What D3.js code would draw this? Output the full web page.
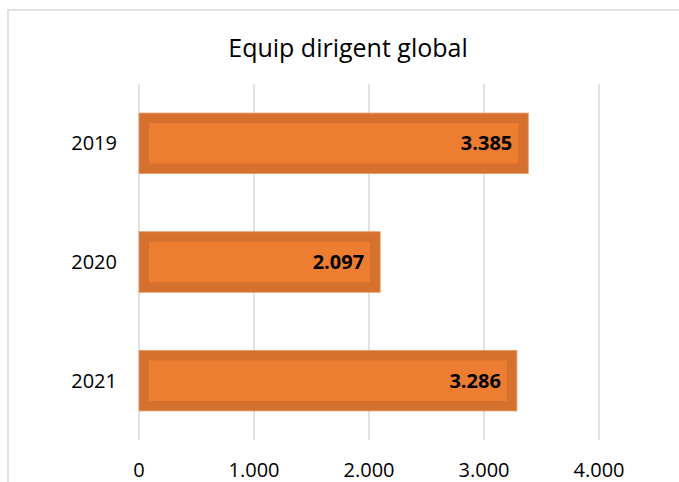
<!DOCTYPE html>
<html lang="ca">
<head>
<meta charset="utf-8">
<title>Equip dirigent global</title>
<script src="https://cdnjs.cloudflare.com/ajax/libs/d3/7.8.5/d3.min.js"></script>
<style>
  body { margin: 0; background: #fff; }
  text { font-family: "Open Sans", "Noto Sans", sans-serif; fill: #000; }
</style>
</head>
<body>
<script>
var years = ["2019", "2020", "2021"];
var values = [3385, 2097, 3286];
var ticks = [0, 1000, 2000, 3000, 4000];

var w = 679, h = 482;
var pLeft = 139, pRight = 599, pTop = 84, pBottom = 440;

var svg = d3.select("body").append("svg")
    .attr("width", w)
    .attr("height", h);

// chart area frame
svg.append("rect")
    .attr("x", 8).attr("y", 10)
    .attr("width", w + 10).attr("height", h + 10)
    .attr("fill", "none")
    .attr("stroke", "#d9d9d9")
    .attr("stroke-width", 1.5);

svg.append("text")
    .attr("x", 348).attr("y", 57)
    .attr("text-anchor", "middle")
    .attr("font-size", 25)
    .attr("font-weight", 500)
    .text("Equip dirigent global");

var x = d3.scaleLinear().domain([0, 4000]).range([pLeft, pRight]);
var y = d3.scaleBand().domain(years).range([pTop, pBottom])
    .paddingInner(0.49).paddingOuter(0.245);

var fmt = function(v) { return d3.format(",")(v).replace(/,/g, "."); };

// gridlines
svg.selectAll("line.grid")
    .data(ticks)
    .enter().append("line")
    .attr("class", "grid")
    .attr("x1", function(d) { return x(d); })
    .attr("x2", function(d) { return x(d); })
    .attr("y1", pTop)
    .attr("y2", pBottom)
    .attr("stroke", "#d9d9d9")
    .attr("stroke-width", 1.5);

var bw = 10;
var bars = svg.selectAll("g.bar")
    .data(values)
    .enter().append("g")
    .attr("class", "bar");

bars.append("rect")
    .attr("x", x(0))
    .attr("y", function(d, i) { return y(years[i]); })
    .attr("width", function(d) { return x(d) - x(0); })
    .attr("height", y.bandwidth())
    .attr("fill", "#d5702e")
    .attr("stroke", "#e99a62")
    .attr("stroke-width", 0.8);

bars.append("rect")
    .attr("x", x(0) + bw)
    .attr("y", function(d, i) { return y(years[i]) + bw; })
    .attr("width", function(d) { return x(d) - x(0) - 2 * bw; })
    .attr("height", y.bandwidth() - 2 * bw)
    .attr("fill", "#ed7d31");

bars.append("text")
    .attr("x", function(d) { return x(d) - 16; })
    .attr("y", function(d, i) { return y(years[i]) + y.bandwidth() / 2 + 7; })
    .attr("text-anchor", "end")
    .attr("font-size", 20)
    .attr("font-weight", "bold")
    .text(function(d) { return fmt(d); });

// category labels
svg.selectAll("text.cat")
    .data(years)
    .enter().append("text")
    .attr("class", "cat")
    .attr("x", 117)
    .attr("y", function(d) { return y(d) + y.bandwidth() / 2 + 7; })
    .attr("text-anchor", "end")
    .attr("font-size", 20)
    .text(function(d) { return d; });

// value axis labels
svg.selectAll("text.tick")
    .data(ticks)
    .enter().append("text")
    .attr("class", "tick")
    .attr("x", function(d) { return x(d); })
    .attr("y", 477)
    .attr("text-anchor", "middle")
    .attr("font-size", 20)
    .text(function(d) { return fmt(d); });
</script>
</body>
</html>
